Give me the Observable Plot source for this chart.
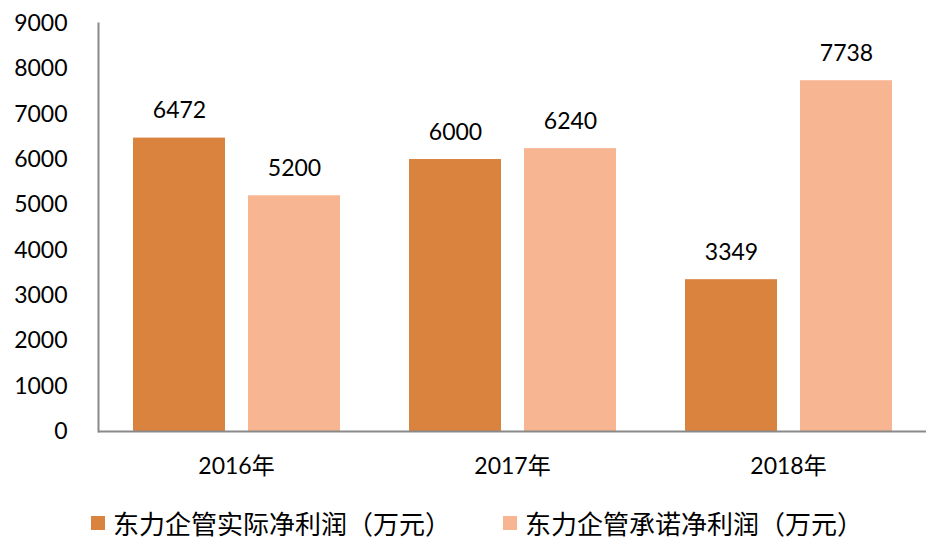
<!DOCTYPE html>
<html>
<head>
<meta charset="utf-8">
<script src="https://cdn.jsdelivr.net/npm/d3@7"></script>
<script src="https://cdn.jsdelivr.net/npm/@observablehq/plot@0.6"></script>
<style>
  body { margin: 0; background: #fff; }
  #chart { width: 951px; height: 558px; position: relative; overflow: hidden; }
  .legend { display: flex; align-items: center; margin-left: 91px; margin-top: 20px;
            font-family: "Noto Sans CJK SC", sans-serif; font-size: 26px; color: #000; line-height: 1; }
  .legend .item { display: flex; align-items: center; }
  .legend .sw { width: 14px; height: 14px; margin-right: 8px; }
</style>
</head>
<body>
<div id="chart"></div>
<script>
const years = ["2016年", "2017年", "2018年"];
const series = ["东力企管实际净利润（万元）", "东力企管承诺净利润（万元）"];
const actual = [6472, 6000, 3349];
const promised = [5200, 6240, 7738];
const colors = ["#DA833F", "#F8B591"];
const yTicks = [0, 1000, 2000, 3000, 4000, 5000, 6000, 7000, 8000, 9000];

const data = [];
years.forEach((y, i) => {
  data.push({year: y, series: series[0], value: actual[i]});
  data.push({year: y, series: series[1], value: promised[i]});
});

const font = "Lato, 'Noto Sans CJK SC', sans-serif";

const plot = Plot.plot({
  width: 951,
  height: 490,
  marginTop: 23,
  marginBottom: 59,
  marginLeft: 97,
  marginRight: 24,
  style: {fontFamily: font, color: "#000", background: "#fff"},
  fx: {domain: years, padding: 0, axis: null},
  x: {domain: series, paddingInner: 0.2, paddingOuter: 0.3, axis: null},
  y: {domain: [0, 9000], axis: null},
  color: {domain: series, range: colors},
  marks: [
    Plot.barY(data, {fx: "year", x: "series", y: "value", fill: "series"}),
    Plot.text(data, {fx: "year", x: "series", y: "value", text: d => String(d.value),
      dy: -27, fontSize: 23, fill: "#000"}),
    Plot.axisY({ticks: yTicks, tickSize: 0, tickPadding: 31, fontSize: 23, label: null,
      tickFormat: d => String(d), fill: "#000"}),
    Plot.axisFx({anchor: "bottom", tickSize: 0, tickPadding: 26, fontSize: 23, label: null, fill: "#000"}),
    Plot.ruleY([0], {stroke: "#898989", strokeWidth: 2}),
    Plot.frame({anchor: "left", facetAnchor: "left", stroke: "#898989", strokeWidth: 2})
  ]
});

const chart = document.getElementById("chart");
chart.appendChild(plot);

const legend = document.createElement("div");
legend.className = "legend";
series.forEach((s, i) => {
  const item = document.createElement("div");
  item.className = "item";
  if (i > 0) item.style.marginLeft = "52px";
  const sw = document.createElement("span");
  sw.className = "sw";
  sw.style.background = colors[i];
  const t = document.createElement("span");
  t.textContent = s;
  item.appendChild(sw);
  item.appendChild(t);
  legend.appendChild(item);
});
chart.appendChild(legend);
</script>
</body>
</html>
